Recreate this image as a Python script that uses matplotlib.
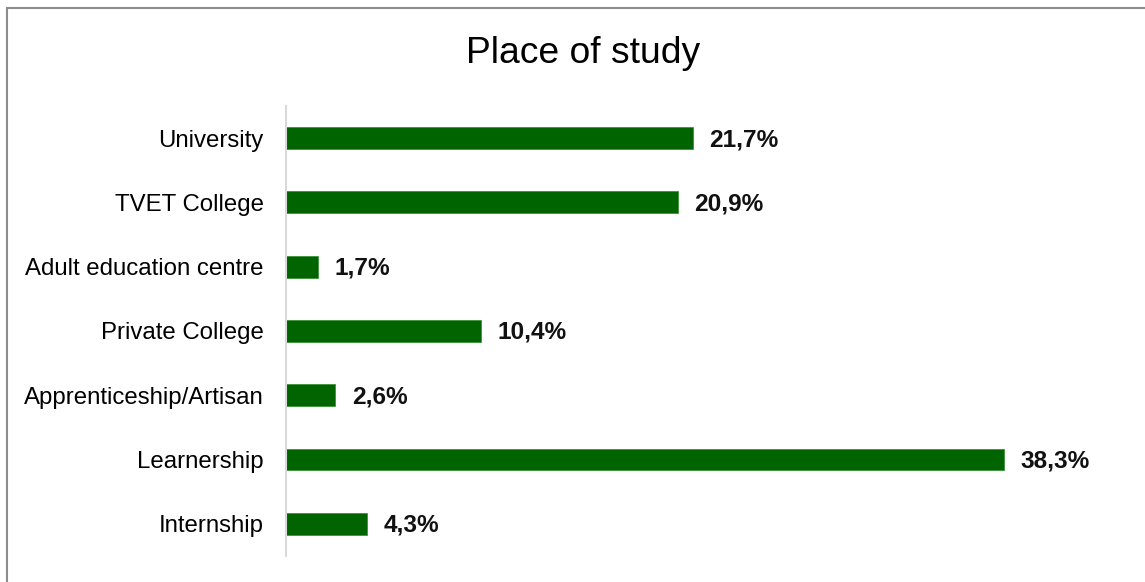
import matplotlib.pyplot as plt
from matplotlib.patches import Rectangle

plt.rcParams['font.family'] = ['Liberation Sans', 'DejaVu Sans']

# place of study shares, in percent
places = ['University', 'TVET College', 'Adult education centre', 'Private College',
          'Apprenticeship/Artisan', 'Learnership', 'Internship']
shares = [21.7, 20.9, 1.7, 10.4, 2.6, 38.3, 4.3]
labels = ['21,7%', '20,9%', '1,7%', '10,4%', '2,6%', '38,3%', '4,3%']

fig = plt.figure(figsize=(11.45, 5.82), dpi=100)
ax = fig.add_axes([0.2498, 0.0447, 0.72, 0.7732])

ypos = list(range(len(places)))
ax.barh(ypos, shares, height=0.34, color='#006400', edgecolor='#2e8b2e', linewidth=0.5)
for y, v, t in zip(ypos, shares, labels):
    ax.annotate(t, (v, y), xytext=(17, -1.5), textcoords='offset pixels',
                va='center', ha='left', fontsize=17.6, fontweight='bold', color='#111111')

ax.set_ylim(len(places) - 0.5, -0.5)
ax.set_xlim(0, 44.0)
ax.set_yticks(ypos)
ax.set_yticklabels(places, fontsize=17.3)
ax.tick_params(axis='y', length=0, pad=16)
ax.set_xticks([])
for s in ['top', 'right', 'bottom']:
    ax.spines[s].set_visible(False)
ax.spines['left'].set_color('#d9d9d9')
ax.spines['left'].set_linewidth(1.5)

fig.text(0.509, 0.908, 'Place of study', ha='center', va='center', fontsize=26.8)

# outer frame, running off the right and bottom edges
fig.patches.append(Rectangle((7 / 1145, -0.05), 1.1, 1 - 8 / 582 + 0.05,
                             transform=fig.transFigure, fill=False,
                             edgecolor='#8c8c8c', linewidth=1.5))

fig.savefig('out.png', dpi=100)
